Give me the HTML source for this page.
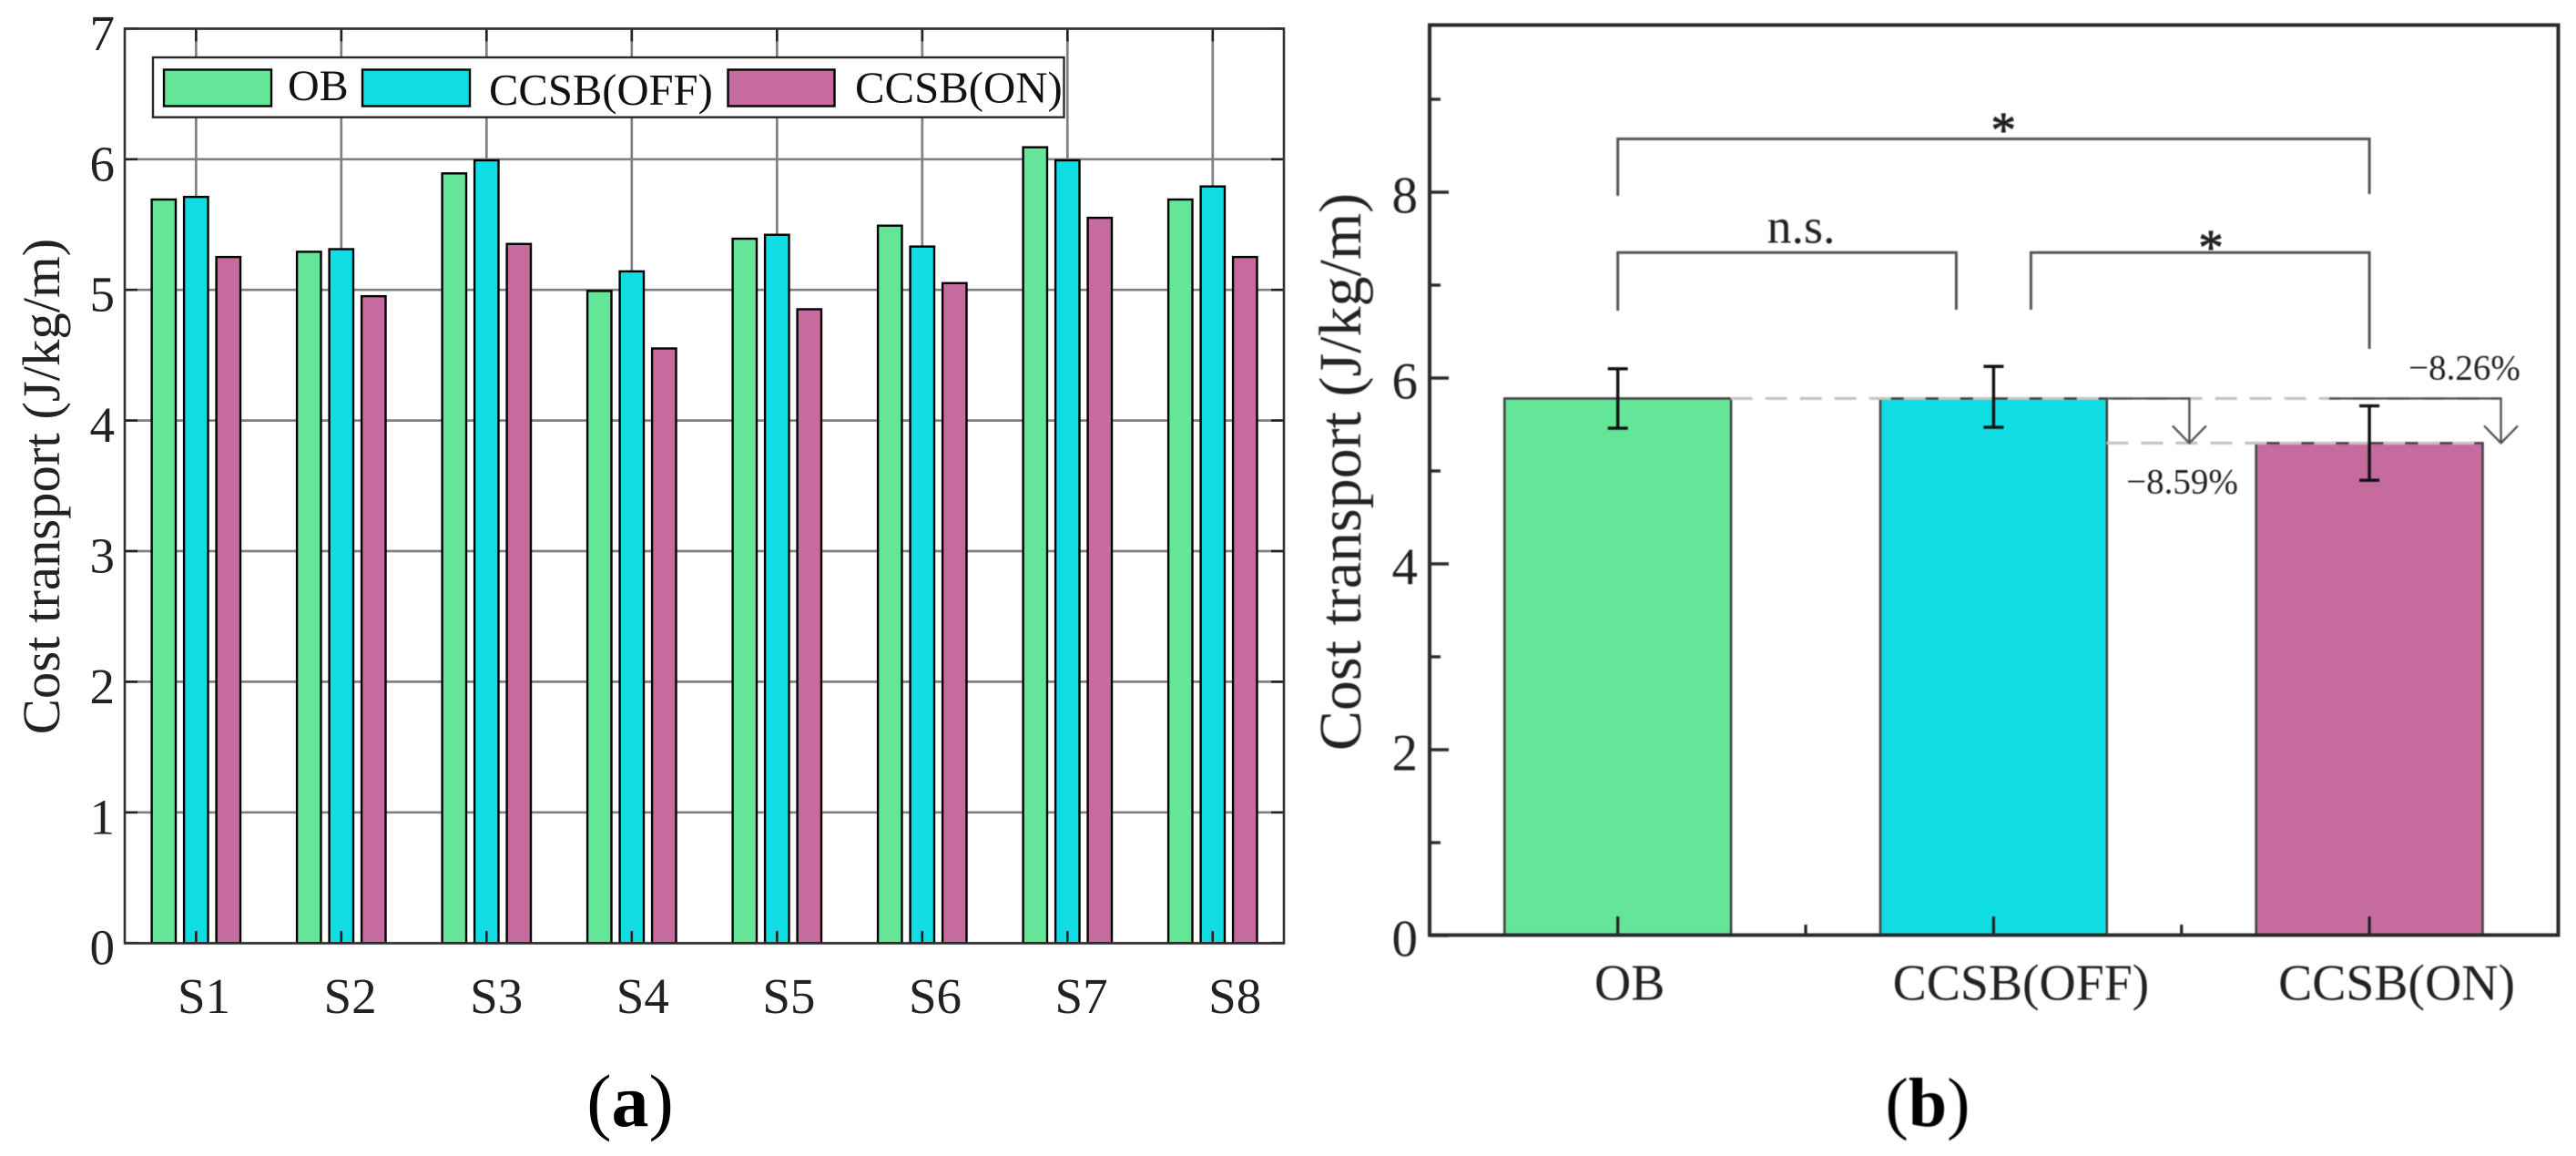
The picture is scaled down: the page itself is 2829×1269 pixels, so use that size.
<!DOCTYPE html>
<html lang="en">
<head>
<meta charset="utf-8">
<title>Cost transport charts</title>
<style>
html,body{margin:0;padding:0;background:#fff;}
svg{display:block;}
text{font-family:"Liberation Serif",serif;fill:#222;}
</style>
</head>
<body>
<svg id="figure" xmlns="http://www.w3.org/2000/svg" width="2829" height="1269" viewBox="0 0 2829 1269">
  <rect x="0" y="0" width="2829" height="1269" fill="#fff"/>

  <g id="panel-a">
    <g id="a-grid"></g>
    <g id="a-bars"></g>
    <g>
      <rect x="168" y="63" width="1000.5" height="65.7" fill="#fff" stroke="#2a2a2a" stroke-width="2.4"/>
      <rect x="180" y="76.5" width="118" height="40" fill="#64e597" stroke="#000" stroke-width="2.4"/>
      <text x="316" y="110" font-size="48" style="fill:#111">OB</text>
      <rect x="398" y="76.5" width="118" height="40" fill="#10dde3" stroke="#000" stroke-width="2.4"/>
      <text x="537" y="115" font-size="48.6" style="fill:#111">CCSB(OFF)</text>
      <rect x="799.5" y="76.5" width="117" height="40" fill="#c66b9e" stroke="#000" stroke-width="2.4"/>
      <text x="939" y="112.5" font-size="48.8" style="fill:#111">CCSB(ON)</text>
    </g>
    <g id="a-ticks"></g>
    <rect x="137" y="31.5" width="1273" height="1004" fill="none" stroke="#333" stroke-width="2.6"/>
    <text transform="translate(65,534) rotate(-90)" text-anchor="middle" font-size="58.7">Cost transport (J/kg/m)</text>
    <text x="692" y="1236" text-anchor="middle" font-size="82" style="fill:#000">(<tspan font-weight="bold">a</tspan>)</text>
  </g>

  <g id="panel-b" style="filter:blur(0.55px)">
    <g id="b-bars"></g>
    <g id="b-annot"></g>
    <g id="b-ticks"></g>
    <rect x="1570" y="27.5" width="1239.5" height="999" fill="none" stroke="#2a2a2a" stroke-width="4"/>
    <text transform="translate(1494,518) rotate(-90)" text-anchor="middle" font-size="66">Cost transport (J/kg/m)</text>
    <text x="2200.3" y="161" text-anchor="middle" font-size="55" style="stroke:#222;stroke-width:0.9">*</text>
    <text x="2428" y="290" text-anchor="middle" font-size="55" style="stroke:#222;stroke-width:0.9">*</text>
    <text x="1978" y="266.7" text-anchor="middle" font-size="54">n.s.</text>
    <text x="2396.5" y="541.7" text-anchor="middle" font-size="39">−8.59%</text>
    <text x="2706.5" y="416.7" text-anchor="middle" font-size="39">−8.26%</text>
    <text x="2117" y="1236" text-anchor="middle" font-size="76" style="fill:#000">(<tspan font-weight="bold">b</tspan>)</text>
  </g>
</svg>

<script>
// Panel (a) data
const subjects = ['S1', 'S2', 'S3', 'S4', 'S5', 'S6', 'S7', 'S8'];
const seriesOB = [5.7, 5.3, 5.9, 5.0, 5.4, 5.5, 6.1, 5.7];
const seriesOff = [5.72, 5.32, 6.0, 5.15, 5.43, 5.34, 6.0, 5.8];
const seriesOn = [5.26, 4.96, 5.36, 4.56, 4.86, 5.06, 5.56, 5.26];
const ticksA = [0, 1, 2, 3, 4, 5, 6, 7];

// Panel (b) data
const conditions = ['OB', 'CCSB(OFF)', 'CCSB(ON)'];
const means = [5.78, 5.78, 5.3];
const errorsHigh = [6.1, 6.125, 5.7];
const errorsLow = [5.46, 5.47, 4.9];
const majorTicksB = [0, 2, 4, 6, 8];
const minorTicksB = [1, 3, 5, 7, 9];

const fills = ['#64e597', '#10dde3', '#c66b9e'];
const NS = 'http://www.w3.org/2000/svg';

function el(tag, attrs, parent, txt) {
  const n = document.createElementNS(NS, tag);
  for (const k in attrs) n.setAttribute(k, attrs[k]);
  if (txt !== undefined) n.textContent = txt;
  parent.appendChild(n);
  return n;
}

// Axis functions
const yA = v => 1035.2 - v * 143.4;
const xA = i => 215.3 + i * 159.5;
const xLabelA = i => 224 + i * 160.6 + (i === subjects.length - 1 ? 8 : 0);
const yB = v => 1027 - v * 102;
const xB = i => 1776.7 + i * 412.7;
const xLabelB = i => xB(i) + (i === 0 ? 13 : 30);

const aGrid = document.getElementById('a-grid');
const aBars = document.getElementById('a-bars');
const aTicks = document.getElementById('a-ticks');
const bBars = document.getElementById('b-bars');
const bAnnot = document.getElementById('b-annot');
const bTicks = document.getElementById('b-ticks');

// Panel (a) grid, ticks and labels
ticksA.forEach(v => {
  const g = el('line', {x1: 137, x2: 1410, y1: yA(v), y2: yA(v), stroke: '#808080', 'stroke-width': 2.7}, aGrid);
  
  
  const tl = el('line', {x1: 137, x2: 151, y1: yA(v), y2: yA(v), stroke: '#222', 'stroke-width': 2.6}, aTicks);
  
  
  const tr = el('line', {x1: 1396, x2: 1410, y1: yA(v), y2: yA(v), stroke: '#222', 'stroke-width': 2.6}, aTicks);
  
  
  const lab = el('text', {x: 126, y: yA(v) + 23.5, 'text-anchor': 'end', 'font-size': 55}, aTicks, String(v));
  
  
});

subjects.forEach((s, i) => {
  const g = el('line', {x1: xA(i), x2: xA(i), y1: 31.5, y2: 1035, stroke: '#808080', 'stroke-width': 2.7}, aGrid);
  
  
  [seriesOB, seriesOff, seriesOn].forEach((series, k) => {
    const cx = xA(i) + (k - 1) * 35.5;
    const r = el('rect', {x: cx - 13.2, y: yA(series[i]) + 1.2, width: 26.4, height: yA(0) - yA(series[i]) - 1.2, fill: fills[k], stroke: '#000', 'stroke-width': 2.4}, aBars);
    
    
  });
  const t1 = el('line', {x1: xA(i), x2: xA(i), y1: 31.5, y2: 45.5, stroke: '#222', 'stroke-width': 2.6}, aTicks);
  
  
  const t2 = el('line', {x1: xA(i), x2: xA(i), y1: 1022, y2: 1035, stroke: '#222', 'stroke-width': 2.6}, aTicks);
  
  
  const lab = el('text', {x: xLabelA(i), y: 1112, 'text-anchor': 'middle', 'font-size': 55}, aTicks, s);
  
  
});

// Panel (b) bars
conditions.forEach((c, i) => {
  const r = el('rect', {x: xB(i) - 124.4, y: yB(means[i]), width: 248.8, height: yB(0) - yB(means[i]), fill: fills[i], stroke: '#444', 'stroke-width': 2.6}, bBars);
  
  
});

// Comparison reference lines
const dashStyle = {stroke: '#c4c4c4', 'stroke-width': 3.2, 'stroke-dasharray': '24 14'};
const refTop = el('line', Object.assign({x1: xB(0) + 124, x2: xB(2) + 144, y1: yB(means[0]), y2: yB(means[0])}, dashStyle), bAnnot);


const refBottom = el('line', Object.assign({x1: xB(1) + 124, x2: xB(2) + 124, y1: yB(means[2]), y2: yB(means[2])}, dashStyle), bAnnot);



function arrow(name, xStart, xEnd, parent) {
  const top = yB(means[1]);
  const tip = yB(means[2]);
  const p = el('path', {d: 'M' + xStart + ' ' + top + 'H' + xEnd + 'V' + tip + 'M' + (xEnd - 18.5) + ' ' + (tip - 19) + 'L' + xEnd + ' ' + tip + 'L' + (xEnd + 18.5) + ' ' + (tip - 19), fill: 'none', stroke: '#555', 'stroke-width': 2.4}, parent);
  
  
}
arrow('reduction-arrow-off', xB(1) + 124, xB(1) + 215, bAnnot);
arrow('reduction-arrow-on', xB(2) - 44, xB(2) + 144.5, bAnnot);

// Error bars
conditions.forEach((c, i) => {
  const e = el('path', {d: 'M' + xB(i) + ' ' + yB(errorsHigh[i]) + 'V' + yB(errorsLow[i]) + 'M' + (xB(i) - 11) + ' ' + yB(errorsHigh[i]) + 'h22M' + (xB(i) - 11) + ' ' + yB(errorsLow[i]) + 'h22', fill: 'none', stroke: '#111', 'stroke-width': 3.4}, bAnnot);
  
  
});

// Significance brackets
function bracket(name, x1, x2, top, bottomL, bottomR, parent) {
  const b = el('path', {d: 'M' + x1 + ' ' + bottomL + 'V' + top + 'H' + x2 + 'V' + bottomR, fill: 'none', stroke: '#555', 'stroke-width': 3}, parent);
  
  
}
bracket('bracket-ob-on', xB(0), xB(2), 152.5, 215, 213, bAnnot);
bracket('bracket-ob-off', xB(0), xB(1) - 41, 277.3, 341, 340, bAnnot);
bracket('bracket-off-on', xB(1) + 41, xB(2), 277.3, 340, 383, bAnnot);

// Panel (b) ticks and labels
majorTicksB.forEach(v => {
  const t = el('line', {x1: 1570, x2: 1591, y1: yB(v), y2: yB(v), stroke: '#2a2a2a', 'stroke-width': 3.4}, bTicks);
  
  
  const lab = el('text', {x: 1557, y: yB(v) + 22.5, 'text-anchor': 'end', 'font-size': 57}, bTicks, String(v));
  
  
});
minorTicksB.forEach(v => {
  const t = el('line', {x1: 1570, x2: 1582, y1: yB(v), y2: yB(v), stroke: '#2a2a2a', 'stroke-width': 3.4}, bTicks);
  
  
});
conditions.forEach((c, i) => {
  const t = el('line', {x1: xB(i), x2: xB(i), y1: 1006, y2: 1027, stroke: '#222', 'stroke-width': 3.2}, bTicks);
  
  
  const lab = el('text', {x: xLabelB(i), y: 1097.5, 'text-anchor': 'middle', 'font-size': 55.7}, bTicks, c);
  
  
  if (i < conditions.length - 1) {
    const m = el('line', {x1: xB(i + 0.5), x2: xB(i + 0.5), y1: 1015, y2: 1027, stroke: '#222', 'stroke-width': 3.2}, bTicks);
    
    
  }
});
</script>
</body>
</html>
